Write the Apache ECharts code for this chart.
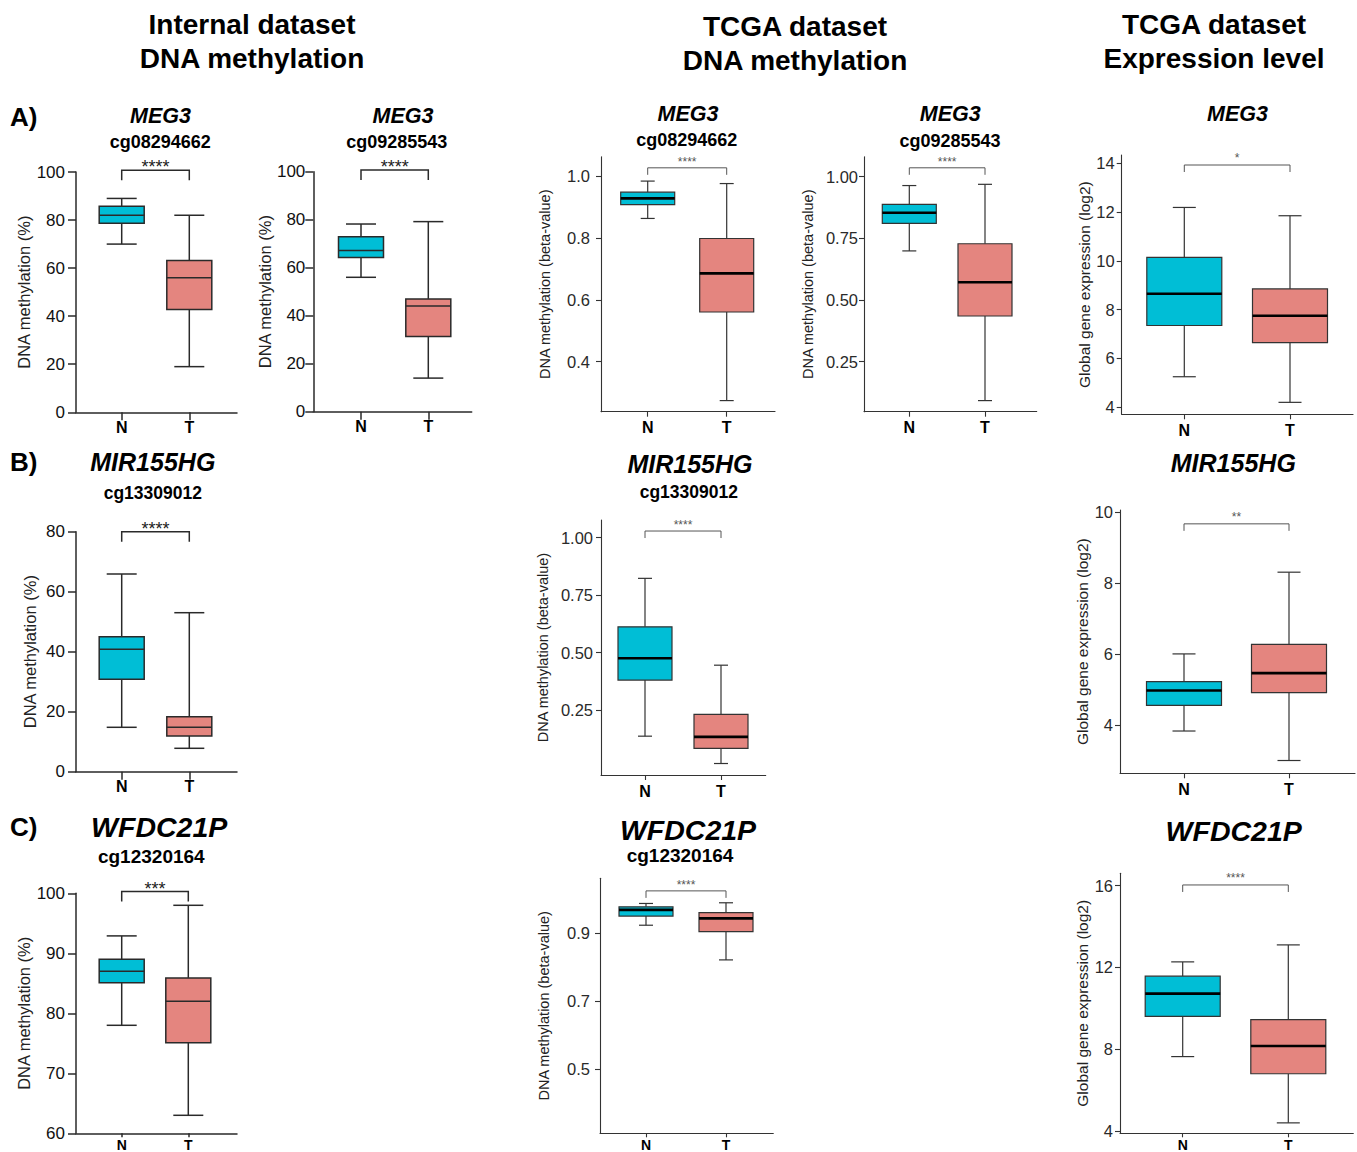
<!DOCTYPE html>
<html><head><meta charset="utf-8">
<script src="https://cdn.jsdelivr.net/npm/echarts@6/dist/echarts.min.js"></script>
<style>html,body{margin:0;padding:0;background:#fff}#c{width:1357px;height:1152px}</style>
</head><body><div id="c"></div>
<script>
// ---------------- DATA ----------------
const groups = ['N', 'T'];
// five-number summaries: [min, Q1, median, Q3, max]
const internal_MEG3_cg08294662_N = [70, 78.7, 82, 85.7, 89];
const internal_MEG3_cg08294662_T = [19, 42.8, 56, 63.2, 82];
const internal_MEG3_cg09285543_N = [56, 64.2, 67.2, 72.9, 78.2];
const internal_MEG3_cg09285543_T = [14, 31.3, 44, 47, 79.2];
const tcga_MEG3_cg08294662_N = [0.864, 0.909, 0.929, 0.949, 0.985];
const tcga_MEG3_cg08294662_T = [0.274, 0.561, 0.686, 0.799, 0.977];
const tcga_MEG3_cg09285543_N = [0.699, 0.811, 0.854, 0.888, 0.964];
const tcga_MEG3_cg09285543_T = [0.092, 0.435, 0.572, 0.728, 0.969];
const expr_MEG3_N = [5.25, 7.35, 8.65, 10.14, 12.19];
const expr_MEG3_T = [4.2, 6.65, 7.75, 8.85, 11.85];
const internal_MIR155HG_cg13309012_N = [14.8, 30.8, 40.8, 45, 65.9];
const internal_MIR155HG_cg13309012_T = [7.8, 11.9, 14.8, 18.3, 53];
const tcga_MIR155HG_cg13309012_N = [0.136, 0.380, 0.475, 0.612, 0.823];
const tcga_MIR155HG_cg13309012_T = [0.017, 0.083, 0.133, 0.231, 0.445];
const expr_MIR155HG_N = [3.83, 4.55, 4.97, 5.22, 6.0];
const expr_MIR155HG_T = [3.0, 4.91, 5.46, 6.27, 8.3];
const internal_WFDC21P_cg12320164_N = [78, 85.1, 87, 89, 92.9];
const internal_WFDC21P_cg12320164_T = [63, 75.1, 82, 85.9, 98];
const tcga_WFDC21P_cg12320164_N = [0.924, 0.951, 0.969, 0.978, 0.988];
const tcga_WFDC21P_cg12320164_T = [0.822, 0.905, 0.944, 0.961, 0.990];
const expr_WFDC21P_N = [7.64, 9.61, 10.72, 11.57, 12.27];
const expr_WFDC21P_T = [4.4, 6.8, 8.16, 9.45, 13.1];

// significance labels and bracket levels (data units), per panel
const sigLabels = ['****', '****', '****', '****', '*', '****', '****', '**', '***', '****', '****'];
const bracketLevels = [100.7, 100.7, 1.028, 1.036, 13.93, 80, 1.029, 9.66, 100.3, 1.025, 16.03];

// tick labels
const ticksPct100 = ['0', '20', '40', '60', '80', '100'];
const ticksPct80 = ['0', '20', '40', '60', '80'];
const ticksPct60to100 = ['60', '70', '80', '90', '100'];
const ticksBetaA1 = ['0.4', '0.6', '0.8', '1.0'];
const ticksBetaQuarter = ['0.25', '0.50', '0.75', '1.00'];
const ticksExprA = ['4', '6', '8', '10', '12', '14'];
const ticksExprB = ['4', '6', '8', '10'];
const ticksBetaC = ['0.5', '0.7', '0.9'];
const ticksExprC = ['4', '8', '12', '16'];

const yNamePct = 'DNA methylation (%)';
const yNameBeta = 'DNA methylation (beta-value)';
const yNameExpr = 'Global gene expression (log2)';

// ---------------- LAYOUT / STYLE ----------------
const FONT = '"Liberation Sans", Arial, Helvetica, sans-serif';
const COLOR_N = '#00BED6', COLOR_T = '#E4857F';
const STYLE = {
  gp: {boxW: 45, capW: 30, stroke: '#2a2a2a', lw: 1.5, medW: 1.5, medC: '#2a2a2a', axisW: 1.5, axisC: '#2a2a2a',
       tickLen: 8, labelC: '#111', labelSize: 17, starSize: 18, starC: '#222', starOff: 3, drop: 10, bracketW: 1.5,
       bracketC: '#2a2a2a', nameSize: 16.5, xLabelMargin: 6},
  gm: {boxW: 54, capW: 14, stroke: '#333', lw: 1.2, medW: 2.6, medC: '#000', axisW: 1.1, axisC: '#333',
       tickLen: 5, labelC: '#2a2a2a', labelSize: 16.5, starSize: 12, starC: '#555', starOff: 6, drop: 7, bracketW: 1,
       bracketC: '#555', nameSize: 14.5, xLabelMargin: 7},
  ge: {boxW: 75, capW: 23, stroke: '#333', lw: 1.2, medW: 2.6, medC: '#000', axisW: 1.1, axisC: '#333',
       tickLen: 5, labelC: '#2a2a2a', labelSize: 16.5, starSize: 12, starC: '#555', starOff: 7, drop: 7, bracketW: 1,
       bracketC: '#555', nameSize: 15.5, xLabelMargin: 7}
};

const panels = [
  {s: 'gp', N: internal_MEG3_cg08294662_N, T: internal_MEG3_cg08294662_T, ticks: ticksPct100, ymin: 0, ymax: 100,
   l: 76, r: 237, t: 172, b: 412.3, nx: 121.7, tx: 189.3, lm: 11, nd: 48, name: yNamePct},
  {s: 'gp', N: internal_MEG3_cg09285543_N, T: internal_MEG3_cg09285543_T, ticks: ticksPct100, ymin: 0, ymax: 100,
   l: 313.3, r: 471.7, t: 171.7, b: 411.7, nx: 361, tx: 428.3, lm: 8, nd: 48, name: yNamePct},
  {s: 'gm', N: tcga_MEG3_cg08294662_N, T: tcga_MEG3_cg08294662_T, ticks: ticksBetaA1, ymin: 0.238, ymax: 1.064,
   l: 601, r: 775, t: 156.7, b: 411.7, nx: 647.7, tx: 726.7, lm: 11, nd: 57.7, name: yNameBeta},
  {s: 'gm', N: tcga_MEG3_cg09285543_N, T: tcga_MEG3_cg09285543_T, ticks: ticksBetaQuarter, ymin: 0.047, ymax: 1.081,
   l: 864, r: 1036.7, t: 156.7, b: 411.7, nx: 909.3, tx: 985, lm: 6, nd: 57.3, name: yNameBeta},
  {s: 'ge', N: expr_MEG3_N, T: expr_MEG3_T, ticks: ticksExprA, ymin: 3.71, ymax: 14.34,
   l: 1121.7, r: 1353, t: 155, b: 414.3, nx: 1184.3, tx: 1290, lm: 7, nd: 36.7, name: yNameExpr},
  {s: 'gp', N: internal_MIR155HG_cg13309012_N, T: internal_MIR155HG_cg13309012_T, ticks: ticksPct80, ymin: 0, ymax: 80,
   l: 76, r: 237, t: 531.7, b: 771.7, nx: 121.7, tx: 189.3, lm: 11, nd: 47.7, name: yNamePct},
  {s: 'gm', N: tcga_MIR155HG_cg13309012_N, T: tcga_MIR155HG_cg13309012_T, ticks: ticksBetaQuarter, ymin: -0.033, ymax: 1.077,
   l: 601, r: 765.7, t: 520, b: 775, nx: 645, tx: 721, lm: 8, nd: 59.3, name: yNameBeta},
  {s: 'ge', N: expr_MIR155HG_N, T: expr_MIR155HG_T, ticks: ticksExprB, ymin: 2.64, ymax: 10.05,
   l: 1120, r: 1355, t: 510, b: 773.3, nx: 1184, tx: 1289, lm: 7, nd: 36, name: yNameExpr},
  {s: 'gp', N: internal_WFDC21P_cg12320164_N, T: internal_WFDC21P_cg12320164_T, ticks: ticksPct60to100, ymin: 60, ymax: 100,
   l: 76, r: 237, t: 893.3, b: 1133.3, nx: 121.7, tx: 188.3, lm: 11, nd: 48, name: yNamePct, bottomRow: true},
  {s: 'gm', N: tcga_WFDC21P_cg12320164_N, T: tcga_WFDC21P_cg12320164_T, ticks: ticksBetaC, ymin: 0.312, ymax: 1.062,
   l: 600, r: 773.3, t: 878.3, b: 1133.3, nx: 646, tx: 726, lm: 10, nd: 57, name: yNameBeta, bottomRow: true},
  {s: 'ge', N: expr_WFDC21P_N, T: expr_WFDC21P_T, ticks: ticksExprC, ymin: 3.89, ymax: 16.6,
   l: 1120, r: 1353.3, t: 873.3, b: 1133.3, nx: 1182.7, tx: 1288.3, lm: 7, nd: 35, name: yNameExpr, bottomRow: true}
];

// text placements: [text, x, y, font]
const texts = [
  ['Internal dataset', 252, 24, 'bold 28px'], ['DNA methylation', 252, 58, 'bold 28px'],
  ['TCGA dataset', 795, 26, 'bold 28px'], ['DNA methylation', 795, 60, 'bold 28px'],
  ['TCGA dataset', 1214, 24, 'bold 28px'], ['Expression level', 1214, 58, 'bold 28px'],
  ['MEG3', 160.5, 116, 'italic bold 21.5px'], ['cg08294662', 160.3, 142, 'bold 18px'],
  ['MEG3', 403, 115.5, 'italic bold 21.5px'], ['cg09285543', 396.7, 141.5, 'bold 18px'],
  ['MEG3', 688, 114, 'italic bold 21.5px'], ['cg08294662', 686.7, 140, 'bold 18px'],
  ['MEG3', 950.3, 114, 'italic bold 21.5px'], ['cg09285543', 950, 140.5, 'bold 18px'],
  ['MEG3', 1237.5, 114, 'italic bold 21.5px'],
  ['MIR155HG', 152.8, 462, 'italic bold 25px'], ['cg13309012', 152.8, 492.5, 'bold 17.5px'],
  ['MIR155HG', 690, 464, 'italic bold 25px'], ['cg13309012', 688.8, 491.7, 'bold 17.5px'],
  ['MIR155HG', 1233.3, 462.5, 'italic bold 25px'],
  ['WFDC21P', 159.2, 827, 'italic bold 28.5px'], ['cg12320164', 151.3, 856.7, 'bold 19px'],
  ['WFDC21P', 688, 829.5, 'italic bold 28.5px'], ['cg12320164', 680, 855.5, 'bold 19px'],
  ['WFDC21P', 1233.7, 830.5, 'italic bold 28.5px']
];
const letters = [['A)', 10, 116.5], ['B)', 10, 461.7], ['C)', 10, 826.7]];

// ---------------- BUILD ----------------
function tickVal(s) { return parseFloat(s); }

const grid = [], xAxis = [], yAxis = [], series = [];
panels.forEach((p, i) => {
  const st = STYLE[p.s];
  const unit = p.tx - p.nx;
  const xmin = 1 - (p.nx - p.l) / unit;
  const xmax = 2 + (p.r - p.tx) / unit;
  grid.push({left: p.l, top: p.t, width: p.r - p.l, height: p.b - p.t, containLabel: false, outerBoundsMode: 'none'});
  xAxis.push({
    gridIndex: i, type: 'value', min: xmin, max: xmax,
    axisLine: {show: true, onZero: false, lineStyle: {color: st.axisC, width: st.axisW}},
    axisTick: {show: true, customValues: [1, 2], length: p.bottomRow ? 4 : st.tickLen,
      lineStyle: {color: st.axisC, width: st.axisW}},
    axisLabel: {show: true, customValues: [1, 2], formatter: v => groups[Math.round(v) - 1],
      margin: p.bottomRow ? 4.5 : st.xLabelMargin, fontSize: p.bottomRow ? 14 : 16, lineHeight: p.bottomRow ? 14 : 18,
      fontWeight: 'bold', color: '#000', fontFamily: FONT},
    splitLine: {show: false}
  });
  const tv = p.ticks.map(tickVal);
  yAxis.push({
    gridIndex: i, type: 'value', min: p.ymin, max: p.ymax,
    axisLine: {show: true, onZero: false, lineStyle: {color: st.axisC, width: st.axisW}},
    axisTick: {show: true, customValues: tv, length: st.tickLen, lineStyle: {color: st.axisC, width: st.axisW}},
    axisLabel: {show: true, customValues: tv, margin: p.lm, fontSize: st.labelSize, color: st.labelC, fontFamily: FONT,
      formatter: v => { const k = tv.findIndex(t => Math.abs(t - v) < 1e-9); return k >= 0 ? p.ticks[k] : ''; }},
    splitLine: {show: false},
    name: p.name, nameLocation: 'middle', nameRotate: 90, nameGap: p.nd - st.nameSize * 0.6,
    nameTextStyle: {fontSize: st.nameSize, color: '#222', fontFamily: FONT}
  });
  // box plots
  series.push({
    type: 'custom', xAxisIndex: i, yAxisIndex: i, clip: false,
    encode: {x: 0, y: [1, 2, 3, 4, 5]},
    data: [[1].concat(p.N), [2].concat(p.T)],
    renderItem: (params, api) => {
      const x = api.value(0);
      const c = y => api.coord([x, y]);
      const pMin = c(api.value(1)), pQ1 = c(api.value(2)), pMed = c(api.value(3)), pQ3 = c(api.value(4)), pMax = c(api.value(5));
      const cx = pMin[0], hw = st.boxW / 2, cw = st.capW / 2;
      const ls = {stroke: st.stroke, lineWidth: st.lw};
      return {type: 'group', children: [
        {type: 'line', shape: {x1: cx, y1: pMax[1], x2: cx, y2: pQ3[1]}, style: ls},
        {type: 'line', shape: {x1: cx, y1: pQ1[1], x2: cx, y2: pMin[1]}, style: ls},
        {type: 'line', shape: {x1: cx - cw, y1: pMax[1], x2: cx + cw, y2: pMax[1]}, style: ls},
        {type: 'line', shape: {x1: cx - cw, y1: pMin[1], x2: cx + cw, y2: pMin[1]}, style: ls},
        {type: 'rect', shape: {x: cx - hw, y: pQ3[1], width: st.boxW, height: pQ1[1] - pQ3[1]},
         style: {fill: params.dataIndex === 0 ? COLOR_N : COLOR_T, stroke: st.stroke, lineWidth: st.lw}},
        {type: 'line', shape: {x1: cx - hw, y1: pMed[1], x2: cx + hw, y2: pMed[1]}, style: {stroke: st.medC, lineWidth: st.medW}}
      ]};
    }
  });
  // significance bracket
  series.push({
    type: 'custom', xAxisIndex: i, yAxisIndex: i, clip: false,
    encode: {x: [0, 1], y: 2},
    data: [[1, 2, bracketLevels[i]]],
    renderItem: (params, api) => {
      const a = api.coord([api.value(0), api.value(2)]);
      const b = api.coord([api.value(1), api.value(2)]);
      return {type: 'group', children: [
        {type: 'polyline', shape: {points: [[a[0], a[1] + st.drop], [a[0], a[1]], [b[0], b[1]], [b[0], b[1] + st.drop]]},
         style: {stroke: st.bracketC, lineWidth: st.bracketW, fill: 'none'}},
        {type: 'text', style: {text: sigLabels[i], x: (a[0] + b[0]) / 2, y: a[1] - st.starOff,
          textAlign: 'center', textVerticalAlign: 'middle', align: 'center', verticalAlign: 'middle',
          font: st.starSize + 'px ' + FONT, fill: st.starC}}
      ]};
    }
  });
});

const graphic = texts.map(t => ({
  type: 'text', x: t[1], y: t[2],
  style: {text: t[0], font: t[3] + ' ' + FONT, fill: '#000',
    textAlign: 'center', textVerticalAlign: 'middle', align: 'center', verticalAlign: 'middle'}
})).concat(letters.map(t => ({
  type: 'text', x: t[1], y: t[2],
  style: {text: t[0], font: 'bold 26px ' + FONT, fill: '#000',
    textAlign: 'left', textVerticalAlign: 'middle', align: 'left', verticalAlign: 'middle'}
})));

const chart = echarts.init(document.getElementById('c'), null, {renderer: 'svg'});
chart.setOption({
  animation: false,
  backgroundColor: '#fff',
  grid, xAxis, yAxis, series, graphic
});
</script></body></html>
